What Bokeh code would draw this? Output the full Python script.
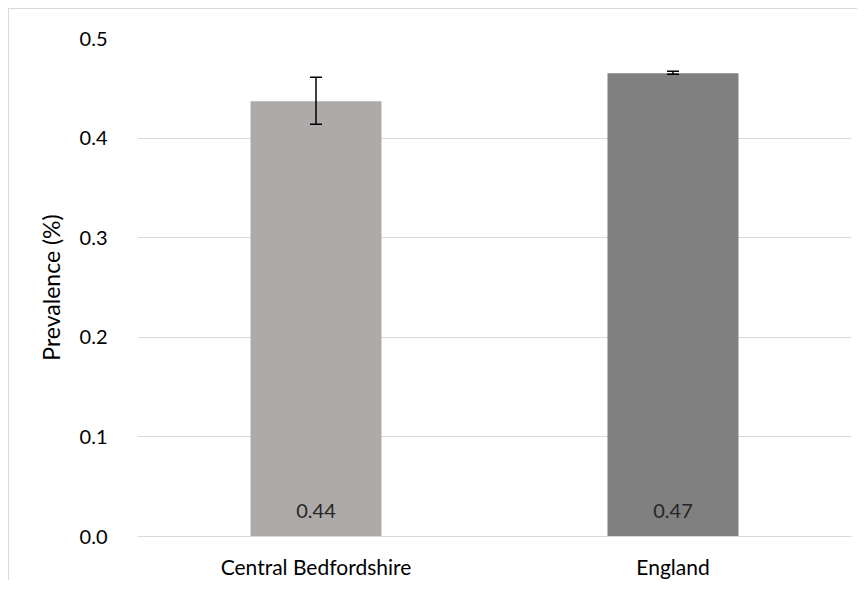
from bokeh.plotting import figure
from bokeh.models import ColumnDataSource, Whisker, TeeHead, LabelSet, FixedTicker, PrintfTickFormatter
from bokeh.core.properties import value
from bokeh.embed import file_html
from bokeh.resources import INLINE

categories = ["Central Bedfordshire", "England"]
prevalence = [0.437, 0.465]
lower_ci = [0.414, 0.464]
upper_ci = [0.461, 0.467]
bar_labels = ["0.44", "0.47"]
bar_colors = ["#AEAAAA", "#808080"]
y_ticks = [0.0, 0.1, 0.2, 0.3, 0.4, 0.5]

FONT = "Lato"

src = ColumnDataSource(dict(cat=categories, val=prevalence, lo=lower_ci, hi=upper_ci,
                            lab=bar_labels, col=bar_colors, base=[0, 0]))

p = figure(x_range=categories, y_range=(0, 0.5), width=849, height=572,
           output_backend="svg", toolbar_location=None,
           min_border_left=128, min_border_right=7, min_border_top=29, min_border_bottom=42,
           styles={"border-left": "1px solid #d9d9d9", "border-top": "1px solid #d9d9d9",
                   "margin-left": "8px", "margin-top": "8px"})

p.vbar(x="cat", top="val", width=0.367, fill_color="col", line_color=None, source=src)

w = Whisker(base="cat", lower="lo", upper="hi", source=src, level="overlay",
            line_color="black", line_width=1.5,
            upper_head=TeeHead(size=12, line_color="black", line_width=1.5),
            lower_head=TeeHead(size=12, line_color="black", line_width=1.5))
p.add_layout(w)

labels = LabelSet(x="cat", y="base", text="lab", source=src, text_align="center",
                  text_baseline="middle", y_offset=26, text_font=value(FONT),
                  text_font_size="20px", text_color="#262626")
p.add_layout(labels)

p.outline_line_color = None
p.xgrid.grid_line_color = None
p.ygrid.grid_line_color = "#d9d9d9"
p.ygrid.grid_line_width = 1
p.yaxis.ticker = FixedTicker(ticks=y_ticks)
p.yaxis.formatter = PrintfTickFormatter(format="%.1f")
p.yaxis.axis_line_color = None
p.yaxis.major_tick_line_color = None
p.yaxis.minor_tick_line_color = None
p.yaxis.major_label_standoff = 24
p.yaxis.axis_label = "Prevalence (%)"
p.yaxis.axis_label_text_font = FONT
p.yaxis.axis_label_text_font_style = "normal"
p.yaxis.axis_label_text_font_size = "23px"
p.yaxis.axis_label_text_color = "#000000"
p.yaxis.axis_label_standoff = 12
p.yaxis.major_label_text_font = FONT
p.yaxis.major_label_text_font_size = "20px"
p.yaxis.major_label_text_color = "#000000"

p.xaxis.axis_line_color = "#d9d9d9"
p.xaxis.major_tick_line_color = None
p.xaxis.minor_tick_line_color = None
p.xaxis.major_tick_out = 0
p.xaxis.major_label_standoff = 17
p.xaxis.major_label_text_font = FONT
p.xaxis.major_label_text_font_size = "21px"
p.xaxis.major_label_text_color = "#000000"

open("out.html", "w").write(file_html(p, INLINE))
